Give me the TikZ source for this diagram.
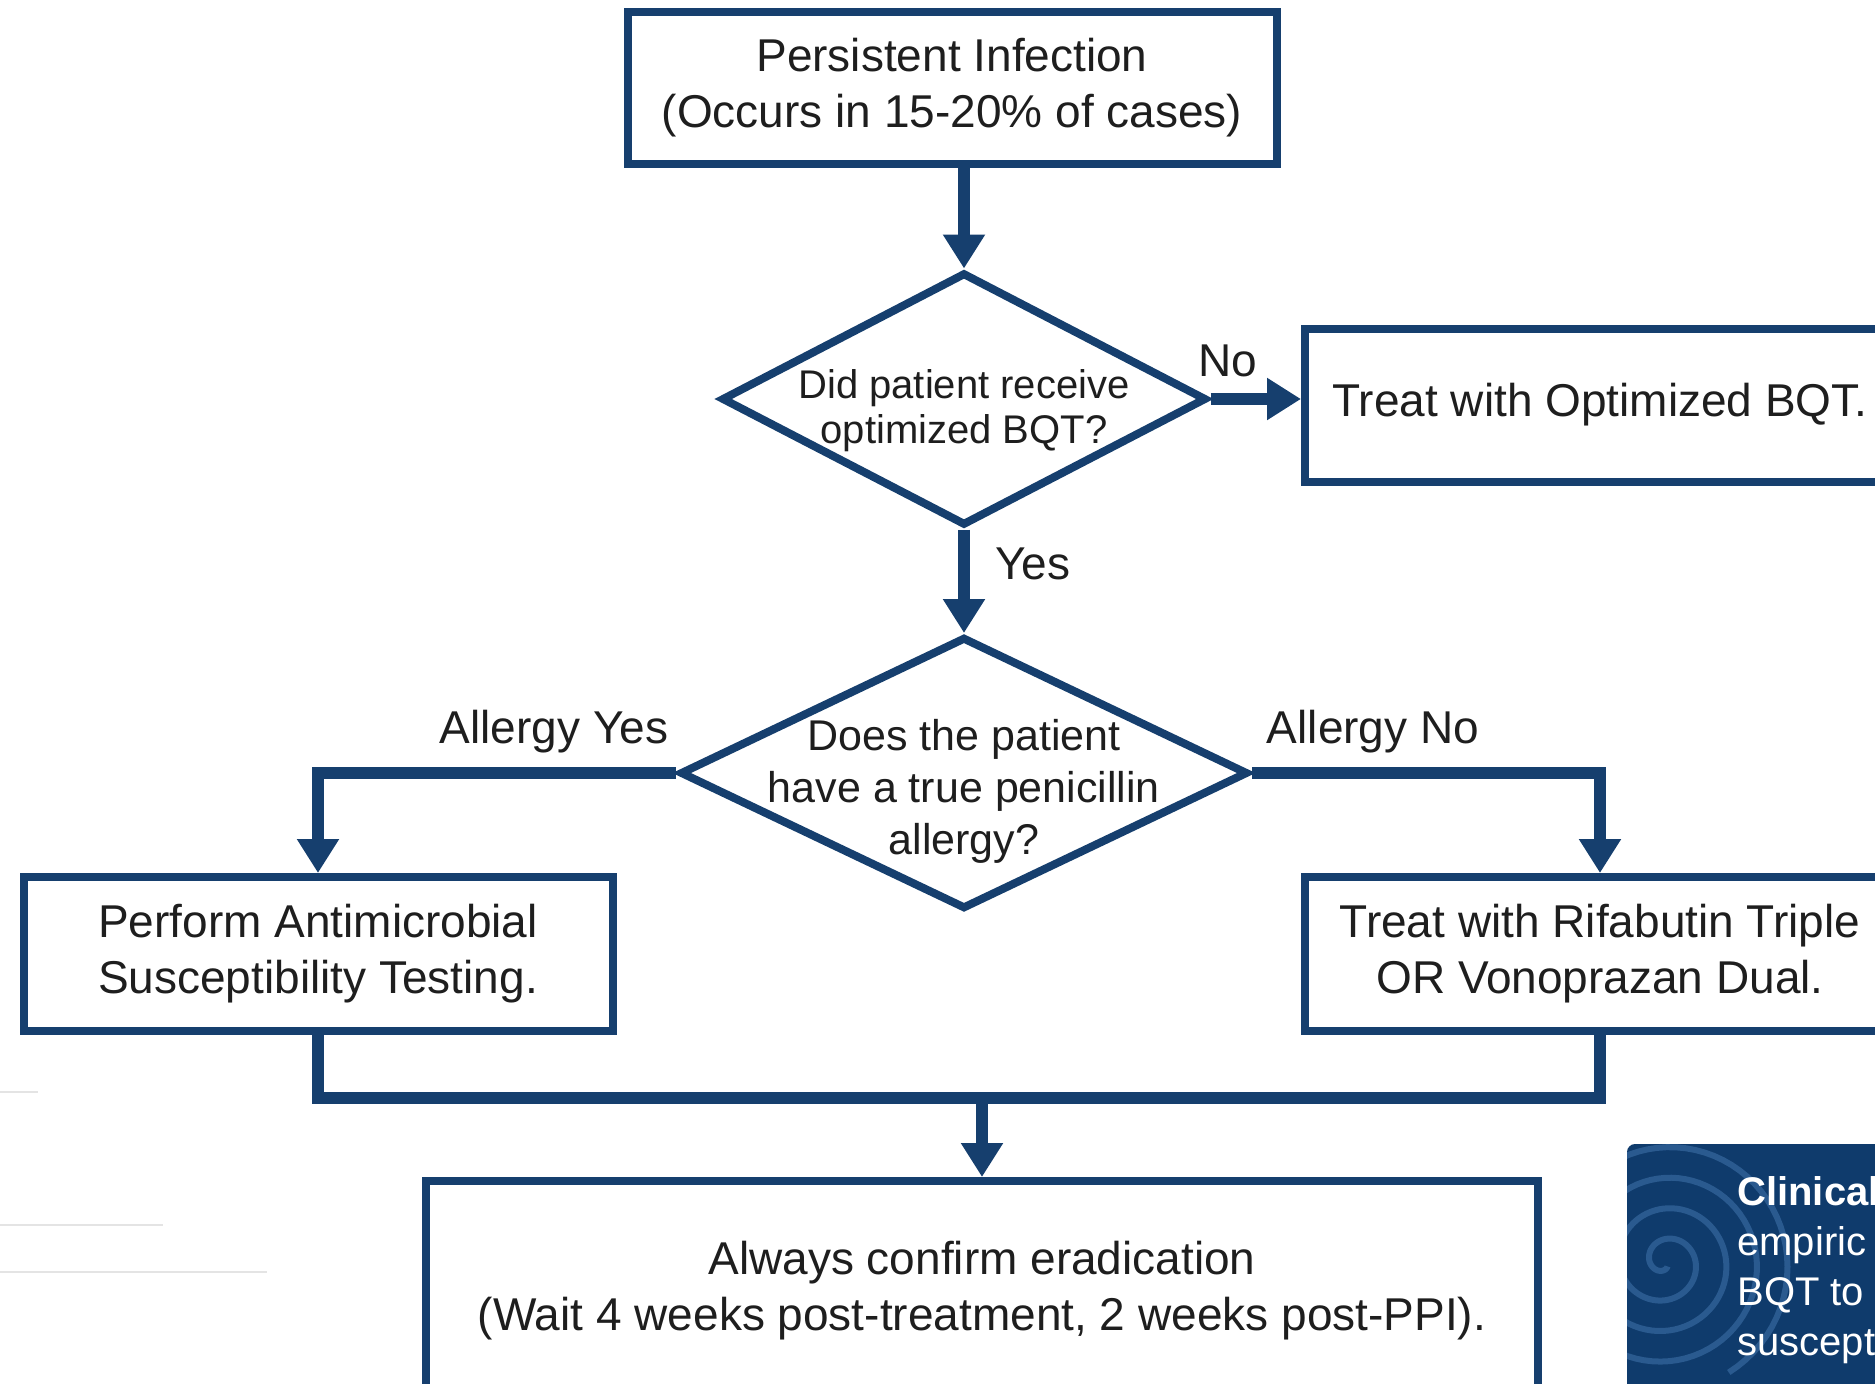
\documentclass[tikz,border=0pt]{standalone}
\usepackage{fontspec}
\setmainfont{Liberation Sans}
\usetikzlibrary{arrows.meta, shapes.geometric, positioning}
\definecolor{flowblue}{HTML}{163F6E}
\definecolor{pearlblue}{HTML}{0F3B6C}
\definecolor{swirlblue}{HTML}{2A5A8F}
\definecolor{ink}{HTML}{1E1E1E}
\definecolor{ghost}{HTML}{E4E4E4}

\begin{document}
\begin{tikzpicture}[
                    x=0.5pt, y=-0.5pt,
                    box/.style={draw=flowblue, line width=4pt, fill=white, text=ink,
                        font=\fontsize{23}{28}\selectfont, align=center, inner sep=0pt},
                    decision/.style={draw=flowblue, line width=4pt, fill=white,
                        shape=diamond, inner sep=0pt},
                    question/.style={text=ink, align=center, inner sep=0pt},
                    flow/.style={draw=flowblue, line width=6pt},
                    arrow/.style={flow, -{Triangle[width=20pt, length=17pt]}},
                    tag/.style={text=ink, font=\fontsize{23}{28}\selectfont, inner sep=0pt}
                ]
                \useasboundingbox (0,0) rectangle (1875,1383);
                \clip (0,0) rectangle (1875,1383);

                % faint rules on the left margin
                \draw[ghost, line width=1pt] (0,1092) -- (38,1092);
                \draw[ghost, line width=1pt] (0,1225) -- (163,1225);
                \draw[ghost, line width=1pt] (0,1272) -- (267,1272);

                \node[box, minimum width=324.5pt, minimum height=76pt] (start) at (952,88)
                    {Persistent Infection\\(Occurs in 15-20\% of cases)};

                \node[decision, minimum width=242.5pt, minimum height=126.5pt] (optimized) at (964,399) {};
                \node[question, font=\fontsize{20}{22.5}\selectfont] (optimizedtext)
                    at ([yshift=-6pt]optimized.center) {Did patient receive\\optimized BQT?};

                \node[box, minimum width=295pt, minimum height=76.5pt] (bqt) at (1600,405)
                    {Treat with Optimized BQT.};

                \node[decision, minimum width=284pt, minimum height=136pt] (allergy) at (964,773) {};
                \node[question, font=\fontsize{21.5}{26}\selectfont] (allergytext)
                    at ([yshift=-9pt]allergy.center) {Does the patient\\have a true penicillin\\allergy?};

                \node[box, minimum width=294.5pt, minimum height=77pt] (testing) at (318,954)
                    {Perform Antimicrobial\\Susceptibility Testing.};
                \node[box, minimum width=295pt, minimum height=77pt] (rifabutin) at (1600,954)
                    {Treat with Rifabutin Triple\\OR Vonoprazan Dual.};

                \node[box, minimum width=556pt, minimum height=110pt] (confirm) at (982,1291)
                    {Always confirm eradication\\(Wait 4 weeks post-treatment, 2 weeks post-PPI).};

                % connectors
                \draw[arrow] (start.south -| optimized.north) -- (optimized.north);
                \draw[arrow] (optimized.east) -- (optimized.east -| bqt.west);
                \draw[arrow] (optimized.south) -- (allergy.north);
                \draw[arrow] (allergy.west) -| (testing.north);
                \draw[arrow] (allergy.east) -| (rifabutin.north);
                \coordinate (merge) at (982,1098);
                \draw[flow] (testing.south) |- (merge) -| (rifabutin.south);
                \draw[arrow] (merge) -- (confirm.north);

                \node[tag] (nolabel) at (1228,361) {No};
                \node[tag] (yeslabel) at (1033,564) {Yes};
                \node[tag] (allergyyes) at (554,732) {Allergy Yes};
                \node[tag] (allergyno) at (1373,732) {Allergy No};

                % clinical pearl panel
                \fill[pearlblue, rounded corners=4pt] (1627,1144) rectangle (1905,1410);
                \begin{scope}
                    \clip (1627,1144) rectangle (1905,1410);
                    \draw[swirlblue, line width=3pt, domain=60:1500, samples=300]
                        plot ({1665 + 0.085*\x*cos(\x)}, {1262 + 0.085*\x*sin(\x)});
                \end{scope}
                \node[anchor=west, text=white, align=left, inner sep=0pt,
                    font=\fontsize{20}{25}\selectfont] (pearl) at (1737,1270)
                    {\textbf{Clinical}\\empiric\\BQT to\\suscept};
            \end{tikzpicture}
\end{document}
